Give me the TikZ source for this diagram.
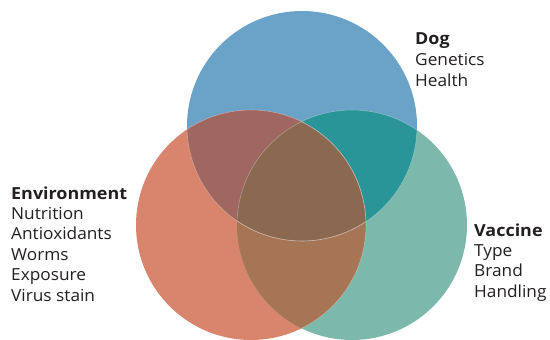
\documentclass[tikz,border=0pt]{standalone}
\usepackage{fontspec}
\setmainfont{Open Sans}[FakeStretch=1.04, BoldFeatures={FakeStretch=1.08}]
\definecolor{cblue}{HTML}{6AA2C8}
\definecolor{corange}{HTML}{D9846C}
\definecolor{cteal}{HTML}{7DB8AC}
\definecolor{cbo}{HTML}{A06760}
\definecolor{cbt}{HTML}{2A9598}
\definecolor{cot}{HTML}{A67556}
\definecolor{cctr}{HTML}{8B6850}
\definecolor{ctext}{HTML}{231F20}
\begin{document}
\begin{tikzpicture}[x=1pt,y=-1pt,
  lbl/.style={anchor=base west, inner sep=0pt, text=ctext, font=\fontsize{16.6}{20}\selectfont},
  hd/.style={lbl, font=\fontsize{16.6}{20}\selectfont\bfseries},
  edge/.style={draw=white, draw opacity=0.3, line width=0.6pt}]
\useasboundingbox (0,0) rectangle (550,340);
\coordinate (dogc) at (302,126);
\coordinate (envc) at (251,225);
\coordinate (vacc) at (352,225);
% base circles
\fill[cblue] (dogc) circle[radius=115pt];
\fill[corange] (envc) circle[radius=115pt];
\fill[cteal] (vacc) circle[radius=115pt];
% pairwise overlaps
\begin{scope}
  \clip (dogc) circle[radius=115pt];
  \fill[cbo] (envc) circle[radius=115pt];
  \fill[cbt] (vacc) circle[radius=115pt];
\end{scope}
\begin{scope}
  \clip (envc) circle[radius=115pt];
  \fill[cot] (vacc) circle[radius=115pt];
\end{scope}
% centre
\begin{scope}
  \clip (dogc) circle[radius=115pt];
  \clip (envc) circle[radius=115pt];
  \fill[cctr] (vacc) circle[radius=115pt];
\end{scope}
% faint inner edges
\begin{scope}
  \clip (envc) circle[radius=115pt];
  \draw[edge] (dogc) circle[radius=115pt];
\end{scope}
\begin{scope}
  \clip (vacc) circle[radius=115pt];
  \draw[edge] (dogc) circle[radius=115pt];
  \draw[edge] (envc) circle[radius=115pt];
\end{scope}
\begin{scope}
  \clip (dogc) circle[radius=115pt];
  \draw[edge] (envc) circle[radius=115pt];
  \draw[edge] (vacc) circle[radius=115pt];
\end{scope}
% labels
\node[hd]  (dog)  at (415,45)   {Dog};
\node[lbl] (gen)  at (415,65.5) {Genetics};
\node[lbl] (hea)  at (415,86)   {Health};
\node[hd]  (env)  at (11,199)   {Environment};
\node[lbl] (nut)  at (11,219.4) {Nutrition};
\node[lbl] (ant)  at (11,239.8) {Antioxidants};
\node[lbl] (wor)  at (11,260.2) {Worms};
\node[lbl] (exp)  at (11,280.6) {Exposure};
\node[lbl] (vir)  at (11,301)   {Virus stain};
\node[hd]  (vac)  at (474,236)  {Vaccine};
\node[lbl] (typ)  at (474,256.4){Type};
\node[lbl] (bra)  at (474,276.8){Brand};
\node[lbl] (han)  at (474,297.2){Handling};
\end{tikzpicture}
\end{document}
